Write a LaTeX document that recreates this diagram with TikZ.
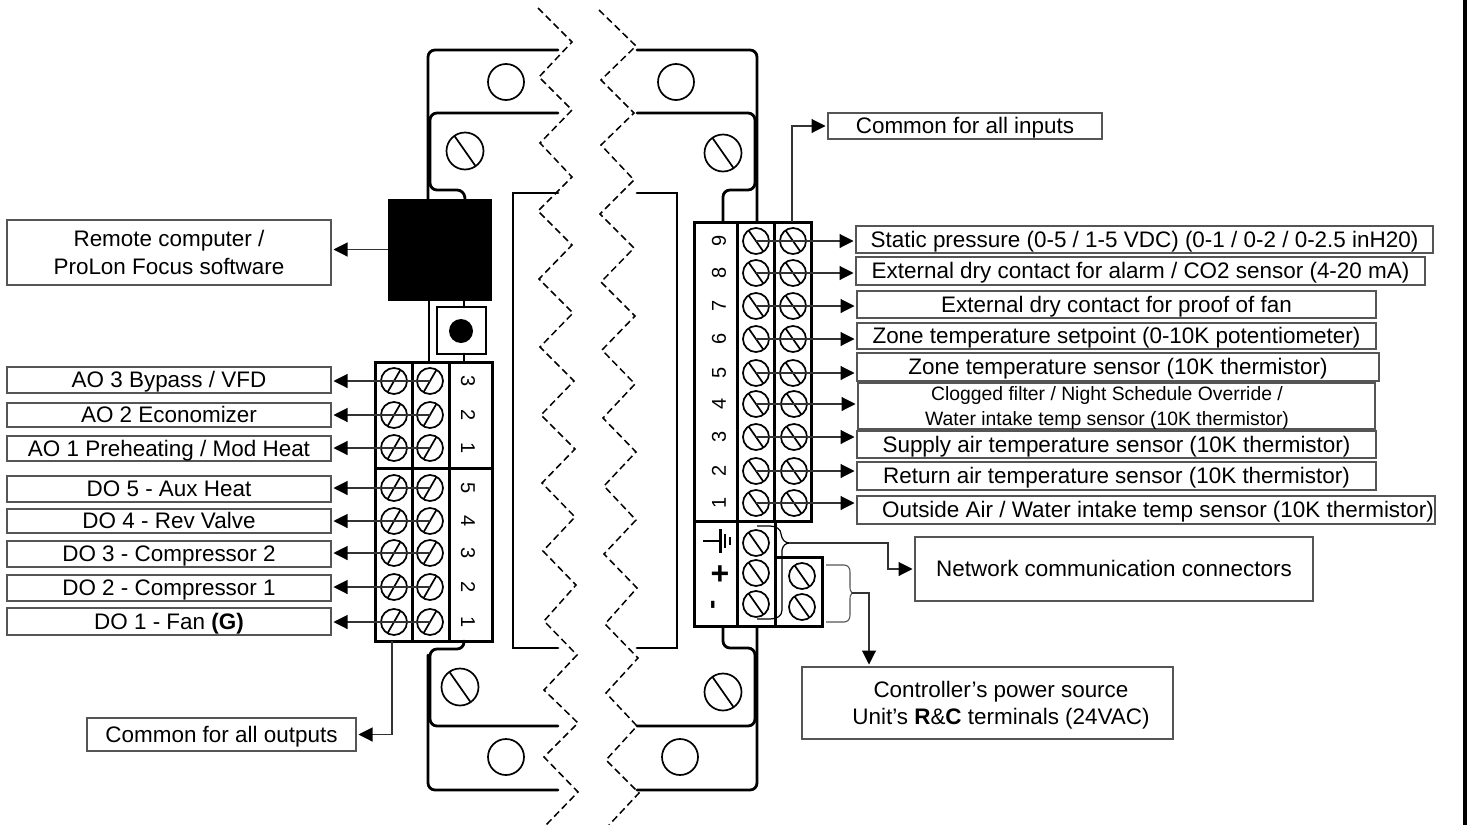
\documentclass[tikz,border=0pt]{standalone}
\usepackage{fontspec}
\setmainfont{Liberation Sans}
\usetikzlibrary{arrows.meta}
\definecolor{boxgrey}{HTML}{555555}
\definecolor{wiregrey}{HTML}{333333}
\tikzset{
  mlbl/.style={draw=boxgrey,line width=1.2pt,fill=white,inner sep=0pt,outer sep=0pt,align=center,font=\fontsize{22.45}{27.5}\selectfont},
  lbl/.style={mlbl,text height=15pt,text depth=0pt},
  screw/.style={circle,draw=black,line width=1.7pt,minimum size=26pt,inner sep=0pt,outer sep=0pt},
  platescrew/.style={circle,draw=black,line width=1.7pt,minimum size=37pt,inner sep=0pt,outer sep=0pt},
  hole/.style={circle,draw=black,line width=1.7pt,minimum size=36pt,inner sep=0pt,outer sep=0pt},
  plate/.style={line width=2.8pt,rounded corners=7pt,line cap=round},
  cell/.style={line width=3pt,line join=miter},
  zig/.style={line width=1.5pt,dash pattern=on 7pt off 4pt},
  wire/.style={draw=wiregrey,line width=1.1pt,-{Triangle[length=14pt,width=14pt,color=black,fill=black]},shorten >=2.5pt},
  num/.style={inner sep=0pt,outer sep=0pt,font=\fontsize{20}{20}\selectfont},
  brace/.style={draw=boxgrey,line width=1.1pt}
}
\newcommand{\lblbox}[6]{\node[lbl,minimum width={#4-#2},minimum height={#5-#3}] (#1) at ({(#2+#4)/2},{(#3+#5)/2}) {#6};}
\newcommand{\screwback}[3]{\node[screw] (#1) at (#2,#3) {}; \draw[line width=1.7pt] (#1.125) -- (#1.305);}
\newcommand{\screwfwd}[3]{\node[screw] (#1) at (#2,#3) {}; \draw[line width=1.7pt] (#1.60) -- (#1.240);}
\begin{document}
\begin{tikzpicture}[x=1pt,y=-1pt]
\useasboundingbox (0,0) rectangle (1468,825);
\fill[white] (0,0) rectangle (1468,825);
% right margin rule
\draw[line width=3.4pt] (1465,0) -- (1465,825);
% plate, left half
\draw[plate] (558,50) -- (428,50) -- (428,199);
\draw[plate] (558,113) -- (430,113) -- (430,190) -- (464,190) -- (465,199);
\draw[plate] (429,300) -- (429,362);
\draw[plate] (464,300) -- (464,307);
\draw[plate] (464,354) -- (464,362);
\draw[plate] (464,641) -- (464,649) -- (430,649) -- (430,726) -- (558,726);
\draw[plate] (428,655) -- (428,790) -- (558,790);
\draw[plate,rounded corners=0pt] (558,193) -- (513,193) -- (513,648) -- (558,648);
% plate, right half
\draw[plate] (637,50) -- (757,50) -- (757,222);
\draw[plate] (637,113) -- (755,113) -- (755,190) -- (723,190) -- (723,222);
\draw[plate] (723,627) -- (723,648) -- (755,648) -- (755,726) -- (637,726);
\draw[plate] (757,627) -- (757,790) -- (637,790);
\draw[plate,rounded corners=0pt] (637,193) -- (677,193) -- (677,648) -- (637,648);
% fixing holes and screws
\node[hole] (h1) at (506,82) {};
\node[hole] (h2) at (676,82) {};
\node[hole] (h3) at (506,757) {};
\node[hole] (h4) at (680,757) {};
\foreach \n/\x/\y in {p1/465/151,p2/723/153,p3/460/687,p4/723/692}{
  \node[platescrew] (\n) at (\x,\y) {};
  \draw[line width=1.7pt] (\n.125) -- (\n.305);
}
% break lines
\draw[zig] (538,8) -- (572,42) -- (539,77) -- (572,110) -- (540,143) -- (572,177) -- (538,211) -- (572,245) -- (539,279) -- (573,313) -- (540,347) -- (574,381) -- (541,415) -- (575,449) -- (542,483) -- (575,517) -- (543,551) -- (576,585) -- (544,621) -- (577,655) -- (544,690) -- (578,723) -- (544,757) -- (578,792) -- (546,825);
\draw[zig] (599,10) -- (636,46) -- (601,80) -- (634,113) -- (601,145) -- (634,180) -- (600,214) -- (634,248) -- (601,282) -- (635,316) -- (602,350) -- (635,384) -- (603,418) -- (636,452) -- (604,486) -- (636,520) -- (604,554) -- (637,588) -- (605,624) -- (638,658) -- (606,693) -- (637,726) -- (606,760) -- (639,793) -- (609,825);
% USB block and button
\node[fill=black,draw=black,minimum width=103pt,minimum height=101pt,inner sep=0pt,outer sep=0pt] (usb) at (439.5,249.5) {};
\node[draw=black,line width=2.6pt,minimum width=49pt,minimum height=47pt,inner sep=0pt,outer sep=0pt] (btn) at (461.5,330.5) {};
\node[circle,fill=black,minimum size=24pt,inner sep=0pt,outer sep=0pt] (btndot) at (461,331) {};
% left terminal
\draw[cell] (375,362) rectangle (492,641);
\draw[cell] (412,362) -- (412,641) (449,362) -- (449,641) (375,468) -- (492,468);
% right terminal
\draw[cell] (694,222) rectangle (811,521);
\draw[cell] (737,222) -- (737,521) (774,222) -- (774,521);
\draw[cell] (694,521) rectangle (775,626);
\draw[cell] (737,521) -- (737,626);
\draw[cell] (775,557) rectangle (822,626);
% labels
\node[mlbl,minimum width=324pt,minimum height=65pt] (remote) at (169,252.5) {Remote computer /\\ProLon Focus software};
\lblbox{ao3}{7}{367}{331}{393}{AO 3 Bypass / VFD}
\lblbox{ao2}{7}{403}{331}{427}{AO 2 Economizer}
\lblbox{ao1}{7}{436}{331}{461}{AO 1 Preheating / Mod Heat}
\lblbox{do5}{7}{476}{331}{502}{DO 5 - Aux Heat}
\lblbox{do4}{7}{509}{331}{533}{DO 4 - Rev Valve}
\lblbox{do3}{7}{541}{331}{567}{DO 3 - Compressor 2}
\lblbox{do2}{7}{575}{331}{601}{DO 2 - Compressor 1}
\lblbox{do1}{7}{608}{331}{635}{DO 1 - Fan \textbf{(G)}}
\lblbox{comout}{87}{718}{356}{751}{Common for all outputs}
\lblbox{comin}{828}{113}{1102}{139}{Common for all inputs}
\lblbox{in9}{856}{226}{1433}{253}{Static pressure (0-5 / 1-5 VDC) (0-1 / 0-2 / 0-2.5 inH20)}
\lblbox{in8}{856}{257}{1425}{285}{External dry contact for alarm / CO2 sensor (4-20 mA)}
\lblbox{in7}{857}{291}{1376}{318}{External dry contact for proof of fan}
\lblbox{in6}{857}{323}{1376}{349}{Zone temperature setpoint (0-10K potentiometer)}
\lblbox{in5}{857}{353}{1379}{381}{Zone temperature sensor (10K thermistor)}
\node[mlbl,font=\fontsize{19.35}{25.5}\selectfont,text depth=0pt,minimum width=517pt,minimum height=46pt] (in4) at (1116.5,406) {Clogged filter / Night Schedule Override /\hspace*{19pt}\\Water intake temp sensor (10K thermistor)\hspace*{19pt}};
\lblbox{in3}{857}{431}{1376}{458}{Supply air temperature sensor (10K thermistor)}
\lblbox{in2}{857}{462}{1376}{490}{Return air temperature sensor (10K thermistor)}
\lblbox{in1}{857}{496}{1435}{524}{\hspace*{24pt}Outside Air / Water intake temp sensor (10K thermistor)}
\lblbox{net}{915}{537}{1313}{601}{Network communication connectors}
\node[mlbl,text depth=0pt,minimum width=371pt,minimum height=72pt] (power) at (987.5,703) {\hspace*{27pt}Controller’s power source\\\hspace*{27pt}Unit’s \textbf{R}\&\textbf{C} terminals (24VAC)};
% left screws, numbers, wires
\foreach \i/\y/\lab/\t in {1/381/ao3/3,2/415/ao2/2,3/448/ao1/1,4/488/do5/5,5/521/do4/4,6/553/do3/3,7/587/do2/2,8/622/do1/1}{
  \screwfwd{la\i}{394}{\y}
  \screwfwd{lb\i}{430}{\y}
  \node[num,rotate=-90] (ln\i) at (468,\y) {\t};
  \draw[wire] (lb\i.center) -- (lb\i.center -| \lab.east);
}
% right screws, numbers, wires
\foreach \i/\y/\lab/\t/\x in {1/241/in9/9/793,2/273/in8/8/793,3/306/in7/7/793,4/339/in6/6/793,5/373/in5/5/793,6/404/in4/4/794,7/437/in3/3/794,8/471/in2/2/794,9/503/in1/1/794}{
  \screwback{ra\i}{756}{\y}
  \screwback{rb\i}{\x}{\y}
  \node[num,rotate=90] (rn\i) at (719,\y) {\t};
  \draw[wire] (ra\i.center) -- (ra\i.center -| \lab.west);
}
% network and power screws
\screwback{ns1}{756}{543}
\screwback{ns2}{756}{573}
\screwback{ns3}{756}{604}
\screwback{ps1}{802}{576}
\screwback{ps2}{802}{607}
% polarity marks
\draw[line width=2.8pt] (703,541) -- (720,541);
\draw[line width=3pt] (720,529) -- (720,553);
\draw[line width=2.6pt] (725,534) -- (725,548);
\draw[line width=2.6pt] (730,537) -- (730,545);
\node[inner sep=0pt,outer sep=0pt,font=\fontsize{32}{32}\selectfont\bfseries] (plusmark) at (720,575) {+};
\node[inner sep=0pt,outer sep=0pt,rotate=90,font=\fontsize{28}{28}\selectfont\bfseries] (minusmark) at (716,605) {-};
% other connectors
\draw[wire] (usb.west) -- (usb.west -| remote.east);
\coordinate (coa) at (392,641);
\coordinate (cia) at (792,222);
\draw[wire] (coa) |- (comout.east);
\draw[wire] (cia) |- (comin.west);
% braces
\coordinate (bn) at (790,543);
\coordinate (bp) at (852,593);
\coordinate (netelbow) at (888,569);
\coordinate (ptip) at (869,667);
\draw[line width=1.2pt] (757,526) -- (770,526) .. controls (777,526) and (781,530) .. (781,534) .. controls (782,540) and (785,543) .. (bn) .. controls (785,543) and (783,546) .. (782,550) -- (782,610) .. controls (782,616) and (777,619) .. (770,619) -- (757,619);
\draw[brace] (826,565) -- (844,565) .. controls (848,565) and (850,568) .. (850,572) -- (850,587) .. controls (850,590) .. (bp) .. controls (850,596) .. (850,599) -- (850,615) .. controls (850,619) and (848,622) .. (844,622) -- (826,622);
\draw[wire] (bn) -| (netelbow) -- (net.west);
\draw[wire] (bp) -| (ptip);
\end{tikzpicture}
\end{document}
